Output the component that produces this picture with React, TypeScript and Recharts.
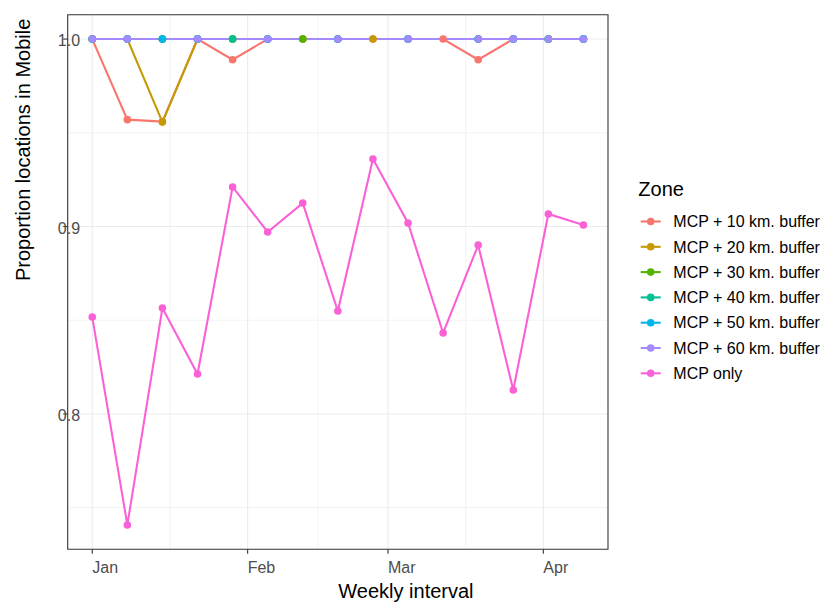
import React from 'react';
import { LineChart, Line, XAxis, YAxis, CartesianGrid, ReferenceArea } from 'recharts';

// Weekly intervals, as days since 1 January (Jan 1 ... Apr 9)
const weekDays = [0, 7, 14, 21, 28, 35, 42, 49, 56, 63, 70, 77, 84, 91, 98];

const mcp10 = [1.0, 0.957, 0.956, 1.0, 0.989, 1.0, 1.0, 1.0, 1.0, 1.0, 1.0, 0.989, 1.0, 1.0, 1.0];
const mcp20 = [1.0, 1.0, 0.9557, 1.0, 1.0, 1.0, 1.0, 1.0, 1.0, 1.0, null, 1.0, 1.0, 1.0, 1.0];
const mcp30 = [1.0, 1.0, 1.0, 1.0, 1.0, 1.0, 1.0, 1.0, null, 1.0, null, 1.0, 1.0, 1.0, 1.0];
const mcp40 = [1.0, 1.0, 1.0, 1.0, 1.0, 1.0, null, 1.0, null, 1.0, null, 1.0, 1.0, 1.0, 1.0];
const mcp50 = [1.0, 1.0, 1.0, 1.0, null, 1.0, null, 1.0, null, 1.0, null, 1.0, 1.0, 1.0, 1.0];
const mcp60 = [1.0, 1.0, null, 1.0, null, 1.0, null, 1.0, null, 1.0, null, 1.0, 1.0, 1.0, 1.0];
const mcpOnly = [0.8517, 0.7408, 0.8565, 0.8213, 0.9211, 0.8971, 0.9125, 0.8549, 0.936, 0.9019, 0.8432, 0.8901, 0.8128, 0.9067, 0.9008];

const seriesNames = [
  'MCP + 10 km. buffer',
  'MCP + 20 km. buffer',
  'MCP + 30 km. buffer',
  'MCP + 40 km. buffer',
  'MCP + 50 km. buffer',
  'MCP + 60 km. buffer',
  'MCP only',
];
const seriesValues = [mcp10, mcp20, mcp30, mcp40, mcp50, mcp60, mcpOnly];
const seriesColors = ['#F8766D', '#C49A00', '#53B400', '#00C094', '#00B6EB', '#A58AFF', '#FB61D7'];

const xTickDays = [0, 31, 59, 90];
const xTickLabels = ['Jan', 'Feb', 'Mar', 'Apr'];
const xMinorDays = [15.5, 45, 74.5];
const yTicks = [0.8, 0.9, 1.0];
const yTickLabels = ['0.8', '0.9', '1.0'];
const yMinor = [0.75, 0.85, 0.95];

const xDomain: [number, number] = [-4.9, 102.9];
const yDomain: [number, number] = [0.7278, 1.013];

const data = weekDays.map((d, i) => {
  const row: Record<string, number | null> = { day: d };
  seriesValues.forEach((vals, s) => {
    row['s' + s] = vals[i];
  });
  return row;
});

const FONT = '"Liberation Sans", Arial, Helvetica, sans-serif';

const XTick = (props: any) => {
  const { x, payload } = props;
  const idx = xTickDays.indexOf(payload.value);
  return (
    <text x={x} y={573} textAnchor="start" fontFamily={FONT} fontSize={16} fill="#4D4D4D">
      {xTickLabels[idx]}
    </text>
  );
};

const YTick = (props: any) => {
  const { y, payload } = props;
  const idx = yTicks.findIndex((t) => Math.abs(t - payload.value) < 1e-9);
  return (
    <text x={57.8} y={y + 7} textAnchor="start" fontFamily={FONT} fontSize={16} fill="#4D4D4D">
      {yTickLabels[idx]}
    </text>
  );
};

export default function App() {
  return (
    <div style={{ position: 'absolute', left: 0, top: 0, width: 824, height: 605, background: '#FFFFFF' }}>
      <LineChart
        width={824}
        height={605}
        data={data}
        margin={{ top: 14.7, right: 216, bottom: 25.7, left: 27.7 }}
      >
        <CartesianGrid
          stroke="#EBEBEB"
          strokeWidth={0.6}
          horizontalValues={yMinor}
          verticalValues={xMinorDays}
        />
        <CartesianGrid
          stroke="#EBEBEB"
          strokeWidth={1.1}
          horizontalValues={yTicks}
          verticalValues={xTickDays}
        />
        <XAxis
          type="number"
          dataKey="day"
          domain={xDomain}
          ticks={xTickDays}
          allowDataOverflow
          height={30}
          axisLine={false}
          tickLine={{ stroke: '#333333', strokeWidth: 1.1 }}
          tickSize={4.5}
          tick={<XTick />}
          interval={0}
        />
        <YAxis
          type="number"
          domain={yDomain}
          ticks={yTicks}
          allowDataOverflow
          width={40}
          axisLine={false}
          tickLine={{ stroke: '#333333', strokeWidth: 1.1 }}
          tickSize={4.5}
          tick={<YTick />}
          interval={0}
        />
        {seriesNames.map((name, s) => (
          <Line
            key={'line' + s}
            type="linear"
            dataKey={'s' + s}
            name={name}
            stroke={seriesColors[s]}
            strokeWidth={2.1}
            dot={false}
            activeDot={false}
            connectNulls
            isAnimationActive={false}
          />
        ))}
        {seriesNames.map((name, s) => (
          <Line
            key={'pts' + s}
            type="linear"
            dataKey={'s' + s}
            name={name + ' points'}
            stroke="none"
            strokeWidth={0}
            dot={{ r: 3.8, fill: seriesColors[s], stroke: 'none', strokeWidth: 0 }}
            activeDot={false}
            isAnimationActive={false}
          />
        ))}
        <ReferenceArea
          x1={xDomain[0]}
          x2={xDomain[1]}
          y1={yDomain[0]}
          y2={yDomain[1]}
          fill="none"
          fillOpacity={0}
          stroke="#333333"
          strokeWidth={1.1}
          ifOverflow="visible"
        />
      </LineChart>
      <svg
        width={824}
        height={605}
        style={{ position: 'absolute', left: 0, top: 0, pointerEvents: 'none' }}
      >
        <text x={338.3} y={597.5} textAnchor="start" fontFamily={FONT} fontSize={20} fill="#000000">
          Weekly interval
        </text>
        <text
          x={29.5}
          y={281}
          transform="rotate(-90 29.5 281)"
          textAnchor="start"
          fontFamily={FONT}
          fontSize={20}
          fill="#000000"
        >
          Proportion locations in Mobile
        </text>
        <text x={638.3} y={196} textAnchor="start" fontFamily={FONT} fontSize={20} fill="#000000">
          Zone
        </text>
        {seriesNames.map((name, s) => {
          const cy = 221.5 + s * 25.3;
          return (
            <g key={'leg' + s}>
              <line x1={640.7} x2={660.7} y1={cy} y2={cy} stroke={seriesColors[s]} strokeWidth={2.1} />
              <circle cx={650.7} cy={cy} r={3.8} fill={seriesColors[s]} />
              <text x={673.3} y={cy + 5.7} textAnchor="start" fontFamily={FONT} fontSize={16} fill="#000000">
                {name}
              </text>
            </g>
          );
        })}
      </svg>
    </div>
  );
}
